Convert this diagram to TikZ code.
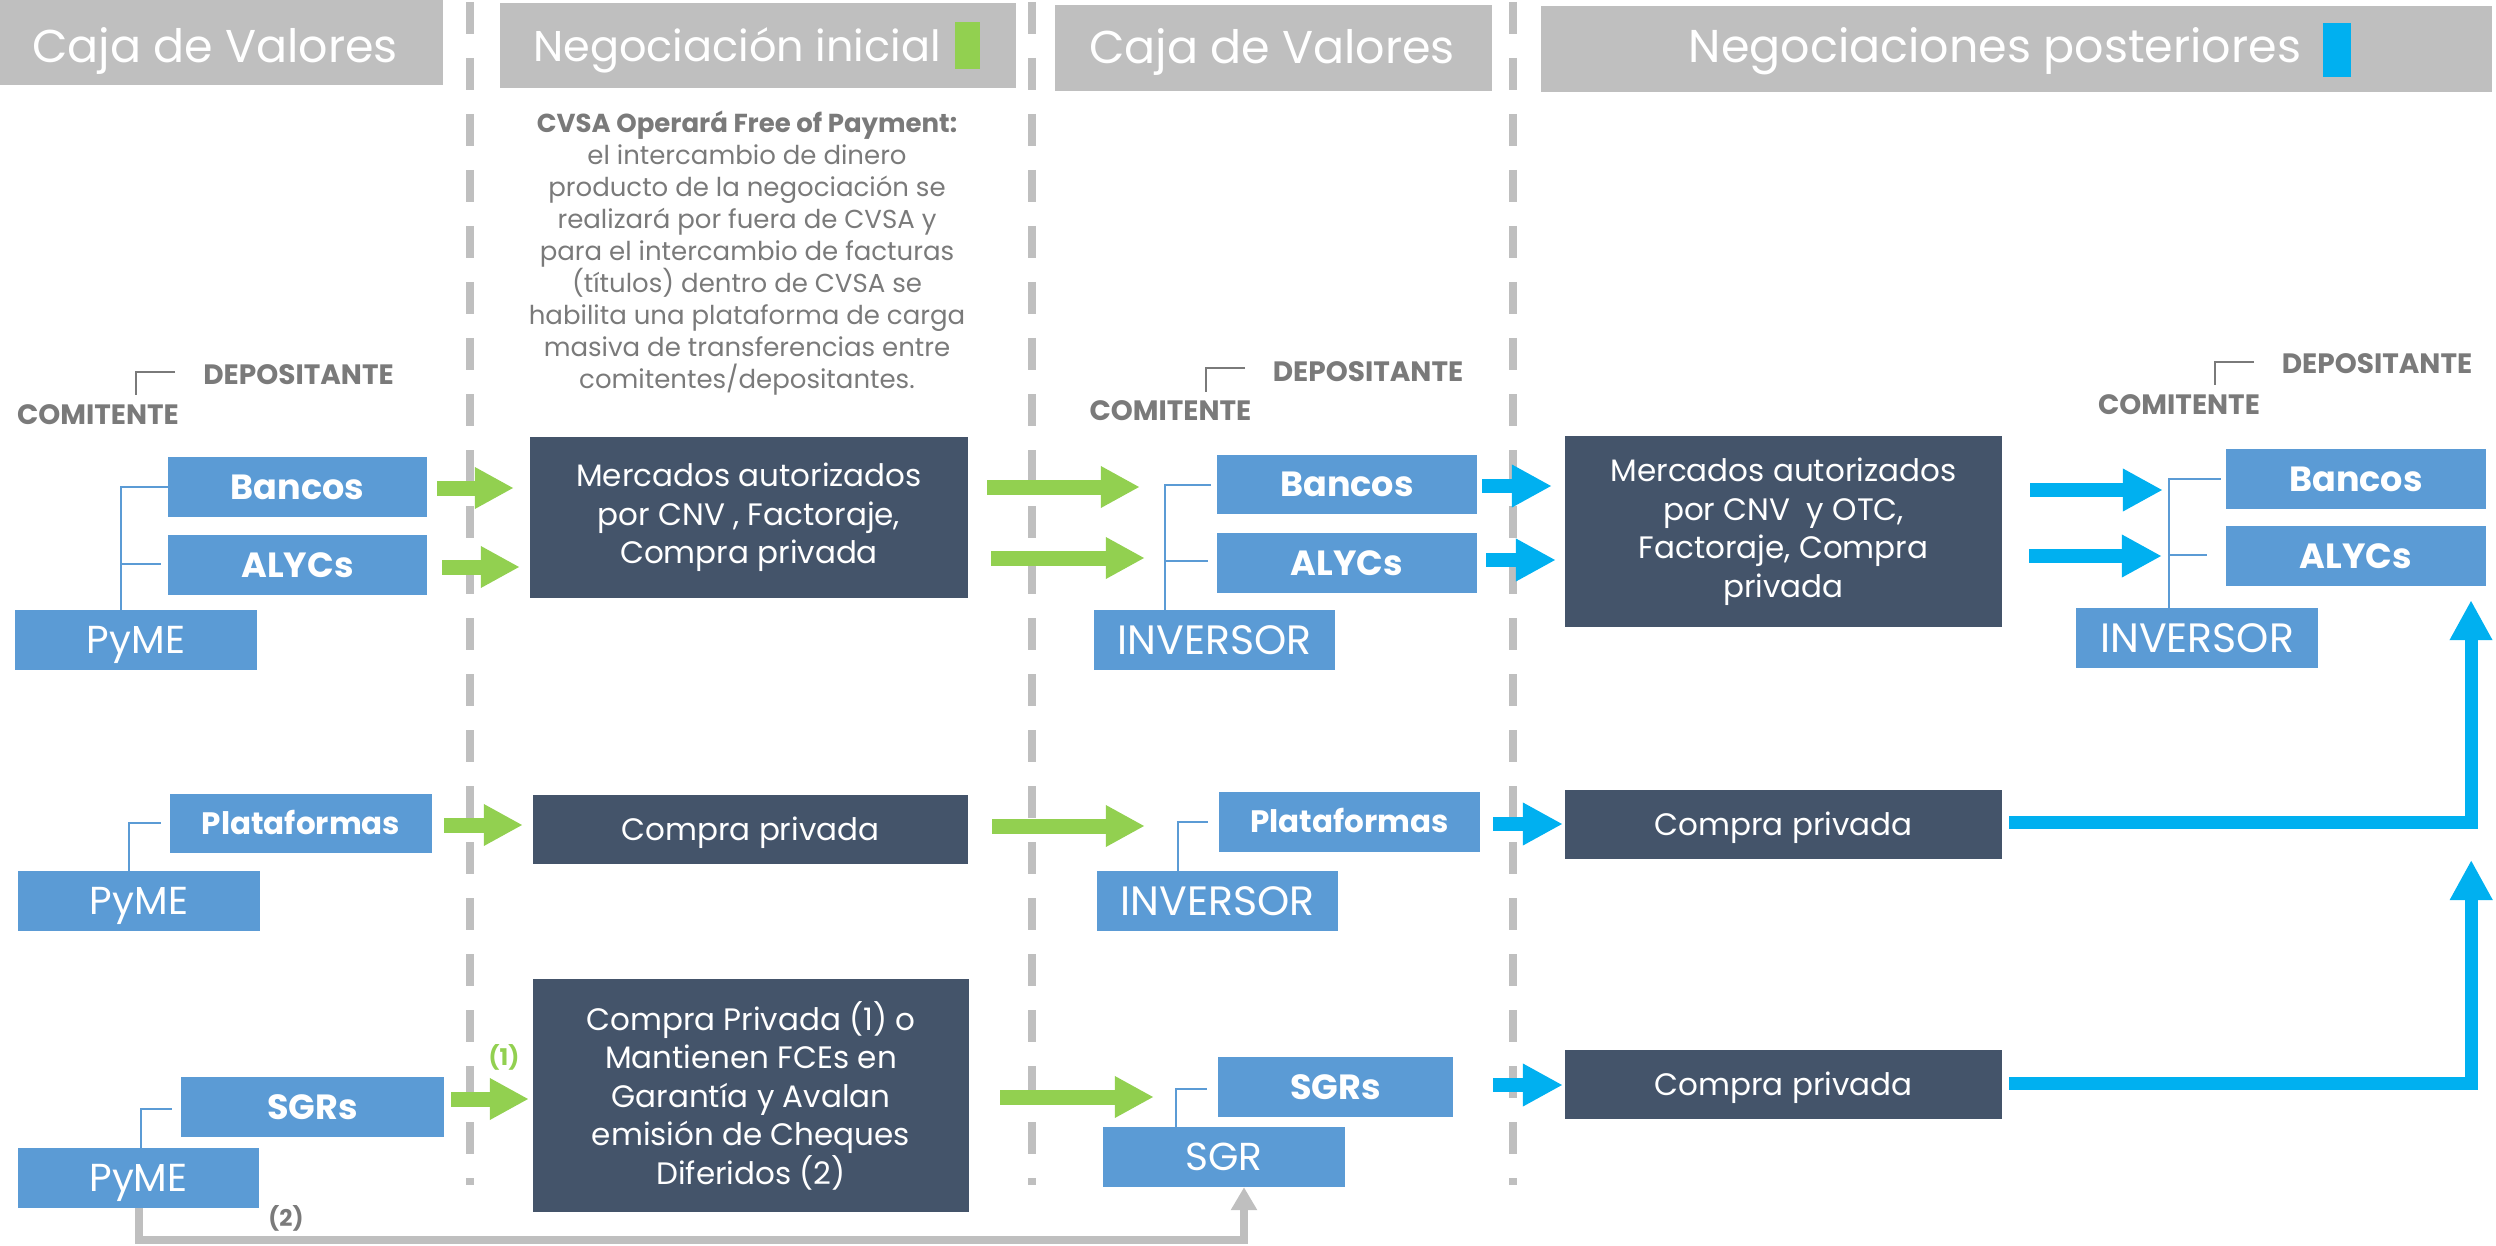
\documentclass[tikz,border=0pt]{standalone}
\usepackage{fontspec}
\setmainfont{Poppins}
\usetikzlibrary{arrows.meta,calc}
\definecolor{hgray}{HTML}{BFBFBF}
\definecolor{boxblue}{HTML}{5B9BD5}
\definecolor{darkbox}{HTML}{44546A}
\definecolor{agreen}{HTML}{92D050}
\definecolor{acyan}{HTML}{00B0F0}
\definecolor{tgray}{HTML}{7A7A7A}
\tikzset{
  hdr/.style={fill=hgray, inner sep=0pt, anchor=north west},
  htext/.style={text=white, inner sep=0pt, anchor=base, font=\fontsize{46}{50}\selectfont},
  bbox/.style={fill=boxblue, text=white, inner sep=0pt, minimum height=60pt},
  lb/.style={font=\fontsize{35}{40}\selectfont\bfseries, text height=24.5pt, text depth=0pt},
  lbs/.style={font=\fontsize{31}{36}\selectfont\bfseries, text height=21.7pt, text depth=0pt},
  lr/.style={font=\fontsize{39}{42}\selectfont, text height=27.2pt, text depth=0pt},
  lrw/.style={font=\fontsize{41}{44}\selectfont, text height=28.6pt, text depth=0pt},
  dbox/.style={fill=darkbox, text=white, inner sep=0pt, align=center, font=\fontsize{31}{38.5}\selectfont},
  done/.style={dbox, text height=21.6pt, text depth=0pt},
  legend/.style={text=tgray, inner sep=0pt, font=\fontsize{28}{32}\selectfont\bfseries},
  bracket/.style={draw=tgray, line width=2pt},
  tree/.style={draw=boxblue, line width=2pt},
  dashline/.style={draw=hgray, line width=8pt, dash pattern=on 32pt off 24pt},
  garrow/.style={draw=agreen, line width=15pt, -{Triangle[length=39pt,width=39pt]}},
  carrow/.style={draw=acyan, line width=14pt, -{Triangle[length=40pt,width=40pt]}},
  croute/.style={draw=acyan, line width=13pt, line join=miter, -{Triangle[length=40pt,width=40pt]}},
  grayroute/.style={draw=hgray, line width=8pt, line join=miter, -{Triangle[length=23pt,width=25pt]}},
}
\begin{document}
\begin{tikzpicture}[x=1pt,y=-1pt]
\useasboundingbox (0,0) rectangle (2496,1246);

% dashed separators
\draw[dashline] (470,2) -- (470,1185);
\draw[dashline] (1032,2) -- (1032,1185);
\draw[dashline] (1513,2) -- (1513,1185);

% headers
\node[hdr, minimum width=443pt, minimum height=85pt] (h1) at (0,0) {};
\node[htext] (h1t) at (215,63) {Caja de Valores};
\node[hdr, minimum width=516pt, minimum height=85pt] (h2) at (500,3) {};
\node[htext, font=\fontsize{43}{48}\selectfont] (h2t) at (737,62) {Negociación inicial};
\fill[agreen] (955,22) rectangle (980,69);
\node[hdr, minimum width=437pt, minimum height=86pt] (h3) at (1055,5) {};
\node[htext] (h3t) at (1272,64) {Caja de Valores};
\node[hdr, minimum width=951pt, minimum height=86pt] (h4) at (1541,6) {};
\node[htext] (h4t) at (1995,63) {Negociaciones posteriores};
\fill[acyan] (2323,23) rectangle (2351,77);

% CVSA note
\node[align=center, text=tgray, inner sep=0pt, anchor=north,
      font=\fontsize{26}{32}\selectfont] (cvsa) at (747,111)
  {\textbf{CVSA Operará Free of Payment:}\\
   el intercambio de dinero\\
   producto de la negociación se\\
   realizará por fuera de CVSA y\\
   para el intercambio de facturas\\
   (títulos) dentro de CVSA se\\
   habilita una plataforma de carga\\
   masiva de transferencias entre\\
   comitentes/depositantes.};

% legends
\node[legend] (cL) at (98,415) {COMITENTE};
\node[legend] (dL) at (298.5,375) {DEPOSITANTE};
\draw[bracket] (175,372) -- (136,372) -- (136,395);
\node[legend] (cC) at (1170.5,411) {COMITENTE};
\node[legend] (dC) at (1368,372) {DEPOSITANTE};
\draw[bracket] (1245,368) -- (1206,368) -- (1206,392);
\node[legend] (cR) at (2179,405) {COMITENTE};
\node[legend] (dR) at (2377,364) {DEPOSITANTE};
\draw[bracket] (2254,362) -- (2215,362) -- (2215,385);

% column 1
\node[bbox, lb, minimum width=259pt] (bL) at (297.5,487) {Bancos};
\node[bbox, lb, minimum width=259pt] (aL) at (297.5,565) {ALYCs};
\node[bbox, lr, minimum width=242pt] (pL1) at (136,640) {PyME};
\node[bbox, lbs, minimum width=262pt, minimum height=59pt] (plL) at (301,823.5) {Plataformas};
\node[bbox, lr, minimum width=242pt] (pL2) at (139,901) {PyME};
\node[bbox, lb, minimum width=263pt] (sL) at (312.5,1107) {SGRs};
\node[bbox, lr, minimum width=241pt] (pL3) at (138.5,1178) {PyME};

\draw[tree] (121,610) |- (bL.west);
\draw[tree] (121,564) -- (161,564);
\draw[tree] (129,871) |- ($(plL.west)+(-9,-1)$);
\draw[tree] (141,1148) |- ($(sL.west)+(-9,2)$);

% column 2
\node[dbox, minimum width=438pt, minimum height=161pt] (m1) at (749,517.5)
  {Mercados autorizados\\por CNV , Factoraje,\\Compra privada};
\node[done, minimum width=435pt, minimum height=69pt] (cp1) at (750.5,829.5) {Compra privada};
\node[dbox, minimum width=436pt, minimum height=233pt] (big) at (751,1095.5)
  {Compra Privada (1) o\\Mantienen FCEs en\\Garantía y Avalan\\emisión de Cheques\\Diferidos (2)};
\node[text=agreen, inner sep=0pt, font=\fontsize{23}{26}\selectfont\bfseries] (n1) at (504,1057) {(1)};
\node[text=tgray, inner sep=0pt, font=\fontsize{23}{26}\selectfont\bfseries] (n2) at (286,1218) {(2)};

% column 3
\node[bbox, lb, minimum width=260pt, minimum height=59pt] (bC) at (1347,484.5) {Bancos};
\node[bbox, lb, minimum width=260pt] (aC) at (1347,563) {ALYCs};
\node[bbox, lrw, minimum width=241pt] (iC1) at (1214.5,640) {INVERSOR};
\node[bbox, lbs, minimum width=261pt] (plC) at (1349.5,822) {Plataformas};
\node[bbox, lrw, minimum width=241pt] (iC2) at (1217.5,901) {INVERSOR};
\node[bbox, lb, minimum width=235pt] (sC) at (1335.5,1087) {SGRs};
\node[bbox, lr, minimum width=242pt] (sgC) at (1224,1157) {SGR};

\draw[tree] (1165,610) |- ($(bC.west)+(-6,0)$);
\draw[tree] (1165,561) -- (1208,561);
\draw[tree] (1178,871) |- ($(plC.west)+(-11,0)$);
\draw[tree] (1176,1127) |- ($(sC.west)+(-11,2)$);

% column 4
\node[dbox, minimum width=437pt, minimum height=191pt] (m2) at (1783.5,531.5)
  {Mercados autorizados\\por CNV\ \ y OTC,\\Factoraje, Compra\\privada};
\node[done, minimum width=437pt, minimum height=69pt] (cp2) at (1783.5,824.5) {Compra privada};
\node[done, minimum width=437pt, minimum height=69pt] (cp3) at (1783.5,1084.5) {Compra privada};

% column 5
\node[bbox, lb, minimum width=260pt] (bR) at (2356,479) {Bancos};
\node[bbox, lb, minimum width=260pt] (aR) at (2356,556) {ALYCs};
\node[bbox, lrw, minimum width=242pt] (iR) at (2197,638) {INVERSOR};

\draw[tree] (2169,608) |- ($(bR.west)+(-5,0)$);
\draw[tree] (2169,555) -- (2207,555);

% green arrows col1 -> col2
\draw[garrow] ($(bL.east)+(10,1)$) -- ($(m1.west|-bL.east)+(-16,1)$);
\draw[garrow] ($(aL.east)+(15,2)$) -- ($(m1.west|-aL.east)+(-10,2)$);
\draw[garrow] ($(plL.east)+(12,1.5)$) -- ($(cp1.west|-plL.east)+(-10,1.5)$);
\draw[garrow] ($(sL.east)+(7,-8)$) -- ($(big.west|-sL.east)+(-4,-8)$);

% green arrows col2 -> col3
\draw[garrow] ($(m1.east|-bC.west)+(19,2.5)$) -- ($(bC.west)+(-77,2.5)$);
\draw[garrow] ($(m1.east|-aC.west)+(23,-5)$) -- ($(aC.west)+(-72,-5)$);
\draw[garrow] ($(cp1.east|-plC.west)+(24,4)$) -- ($(plC.west)+(-74,4)$);
\draw[garrow] ($(big.east|-sC.west)+(31,10)$) -- ($(sC.west)+(-64,10)$);

% cyan arrows col3 -> col4
\draw[carrow] ($(bC.east)+(5,1.5)$) -- ($(m2.west|-bC.east)+(-13,1.5)$);
\draw[carrow] ($(aC.east)+(9,-3)$) -- ($(m2.west|-aC.east)+(-9,-3)$);
\draw[carrow] ($(plC.east)+(13,2)$) -- ($(cp2.west|-plC.east)+(-2,2)$);
\draw[carrow] ($(sC.east)+(40,-2)$) -- ($(cp3.west|-sC.east)+(-2,-2)$);

% cyan arrows col4 -> col5
\draw[carrow] ($(m2.east|-bR.west)+(28,11)$) -- ($(bR.west)+(-63,11)$);
\draw[carrow] ($(m2.east|-aR.west)+(27,0)$) -- ($(aR.west)+(-64,0)$);

% routes up to the right column
\draw[croute] ($(cp2.east)+(7,-2.5)$) -| ($(aR.south)+(115,14)$);
\draw[croute] ($(cp3.east)+(7,-1.5)$) -| ($(cp2.east)+(469,35.5)$);

% gray route PyME -> SGR
\draw[grayroute] (pL3.south) -- ++(0,32) -| ($(sgC.south)+(20,0)$);
\end{tikzpicture}
\end{document}
